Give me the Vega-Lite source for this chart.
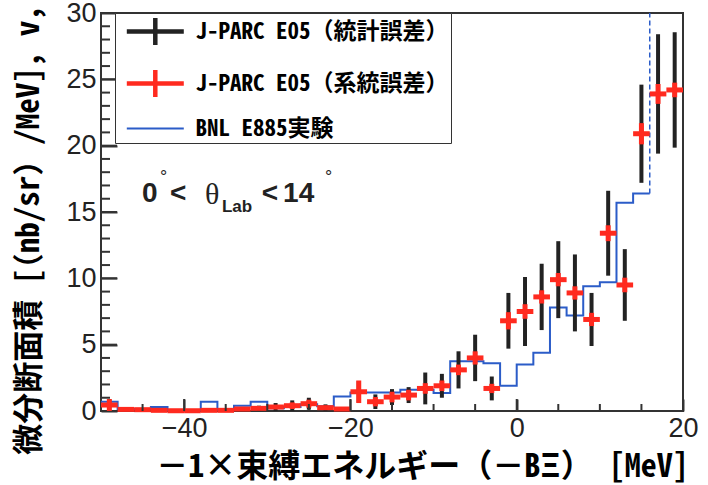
{
  "$schema": "https://vega.github.io/schema/vega-lite/v6.json",
  "width": 582,
  "height": 398,
  "autosize": {"type": "none"},
  "padding": {"left": 101, "top": 13, "right": 25, "bottom": 74},
  "background": "white",
  "config": {
    "view": {"stroke": "#333", "strokeWidth": 2},
    "axis": {"grid": false}
  },
  "datasets": {
    "jparc": [
      {"x": -49, "xlo": -50, "xhi": -48, "v": 0.45, "stat": 0.45, "syst": 0.45},
      {"x": -47, "xlo": -48, "xhi": -46, "v": 0.12, "stat": 0.12, "syst": 0.1},
      {"x": -45, "xlo": -46, "xhi": -44, "v": 0.1, "stat": 0.1, "syst": 0.1},
      {"x": -43, "xlo": -44, "xhi": -42, "v": 0.05, "stat": 0.05, "syst": 0.05},
      {"x": -41, "xlo": -42, "xhi": -40, "v": 0.02, "stat": 0.02, "syst": 0.02},
      {"x": -39, "xlo": -40, "xhi": -38, "v": 0.02, "stat": 0.02, "syst": 0.02},
      {"x": -37, "xlo": -38, "xhi": -36, "v": 0.05, "stat": 0.05, "syst": 0.05},
      {"x": -35, "xlo": -36, "xhi": -34, "v": 0.05, "stat": 0.05, "syst": 0.05},
      {"x": -33, "xlo": -34, "xhi": -32, "v": 0.15, "stat": 0.15, "syst": 0.1},
      {"x": -31, "xlo": -32, "xhi": -30, "v": 0.2, "stat": 0.2, "syst": 0.1},
      {"x": -29, "xlo": -30, "xhi": -28, "v": 0.3, "stat": 0.3, "syst": 0.15},
      {"x": -27, "xlo": -28, "xhi": -26, "v": 0.4, "stat": 0.4, "syst": 0.25},
      {"x": -25, "xlo": -26, "xhi": -24, "v": 0.55, "stat": 0.45, "syst": 0.3},
      {"x": -23, "xlo": -24, "xhi": -22, "v": 0.25, "stat": 0.25, "syst": 0.15},
      {"x": -21, "xlo": -22, "xhi": -20, "v": 0.15, "stat": 0.15, "syst": 0.1},
      {"x": -19, "xlo": -20, "xhi": -18, "v": 1.45, "stat": 0.8, "syst": 0.85},
      {"x": -17, "xlo": -18, "xhi": -16, "v": 0.7, "stat": 0.55, "syst": 0.35},
      {"x": -15, "xlo": -16, "xhi": -14, "v": 1.05, "stat": 0.6, "syst": 0.4},
      {"x": -13, "xlo": -14, "xhi": -12, "v": 1.2, "stat": 0.6, "syst": 0.4},
      {"x": -11, "xlo": -12, "xhi": -10, "v": 1.7, "stat": 1.2, "syst": 0.4},
      {"x": -9, "xlo": -10, "xhi": -8, "v": 1.9, "stat": 0.9, "syst": 0.4},
      {"x": -7, "xlo": -8, "xhi": -6, "v": 3.1, "stat": 1.4, "syst": 0.4},
      {"x": -5, "xlo": -6, "xhi": -4, "v": 4.0, "stat": 1.75, "syst": 0.5},
      {"x": -3, "xlo": -4, "xhi": -2, "v": 1.7, "stat": 0.9, "syst": 0.35},
      {"x": -1, "xlo": -2, "xhi": 0, "v": 6.8, "stat": 2.1, "syst": 0.65},
      {"x": 1, "xlo": 0, "xhi": 2, "v": 7.5, "stat": 2.6, "syst": 0.55},
      {"x": 3, "xlo": 2, "xhi": 4, "v": 8.6, "stat": 2.5, "syst": 0.5},
      {"x": 5, "xlo": 4, "xhi": 6, "v": 9.9, "stat": 2.9, "syst": 0.5},
      {"x": 7, "xlo": 6, "xhi": 8, "v": 8.9, "stat": 2.9, "syst": 0.5},
      {"x": 9, "xlo": 8, "xhi": 10, "v": 6.9, "stat": 2.0, "syst": 0.5},
      {"x": 11, "xlo": 10, "xhi": 12, "v": 13.4, "stat": 3.2, "syst": 0.6},
      {"x": 13, "xlo": 12, "xhi": 14, "v": 9.5, "stat": 2.7, "syst": 0.55},
      {"x": 15, "xlo": 14, "xhi": 16, "v": 20.9, "stat": 3.7, "syst": 0.8},
      {"x": 17, "xlo": 16, "xhi": 18, "v": 23.9, "stat": 4.5, "syst": 0.75},
      {"x": 19, "xlo": 18, "xhi": 20, "v": 24.2, "stat": 4.35, "syst": 0.55}
    ],
    "bnl": [
      {"e": -50, "v": 0.7}, {"e": -48, "v": 0.15}, {"e": -46, "v": 0.15}, {"e": -44, "v": 0.3},
      {"e": -42, "v": 0.05}, {"e": -40, "v": 0.05}, {"e": -38, "v": 0.7}, {"e": -36, "v": 0.1},
      {"e": -34, "v": 0.4}, {"e": -32, "v": 0.7}, {"e": -30, "v": 0.2}, {"e": -28, "v": 0.3},
      {"e": -26, "v": 0.5}, {"e": -24, "v": 0.35}, {"e": -22, "v": 1.1}, {"e": -20, "v": 1.4},
      {"e": -18, "v": 1.4}, {"e": -16, "v": 1.4}, {"e": -14, "v": 1.6}, {"e": -12, "v": 1.6},
      {"e": -10, "v": 1.35}, {"e": -8, "v": 3.75}, {"e": -6, "v": 3.75}, {"e": -4, "v": 3.6},
      {"e": -2, "v": 1.9}, {"e": 0, "v": 3.5}, {"e": 2, "v": 4.4}, {"e": 4, "v": 7.8},
      {"e": 6, "v": 7.2}, {"e": 8, "v": 9.4}, {"e": 10, "v": 9.7}, {"e": 12, "v": 15.7},
      {"e": 14, "v": 16.4}, {"e": 16, "v": 16.4}
    ],
    "edge": [{"x": 16, "y": 16.4, "y2": 30}],
    "tx_major": [{"v": -40}, {"v": -20}, {"v": 0}],
    "tx_minor": [{"v": -45}, {"v": -35}, {"v": -30}, {"v": -25}, {"v": -15}, {"v": -10}, {"v": -5}, {"v": 5}, {"v": 10}, {"v": 15}],
    "ty_major": [{"v": 5}, {"v": 10}, {"v": 15}, {"v": 20}, {"v": 25}],
    "ty_minor": [
      {"v": 1}, {"v": 2}, {"v": 3}, {"v": 4}, {"v": 6}, {"v": 7}, {"v": 8}, {"v": 9},
      {"v": 11}, {"v": 12}, {"v": 13}, {"v": 14}, {"v": 16}, {"v": 17}, {"v": 18}, {"v": 19},
      {"v": 21}, {"v": 22}, {"v": 23}, {"v": 24}, {"v": 26}, {"v": 27}, {"v": 28}, {"v": 29}
    ],
    "series": [
      {"series": "J-PARC E05（統計誤差）"},
      {"series": "J-PARC E05（系統誤差）"},
      {"series": "BNL E885実験"}
    ],
    "ann_main": [
      {"t": "0", "x": -45.07, "y": 15.75},
      {"t": "<", "x": -41.7, "y": 15.75},
      {"t": "<", "x": -30.67, "y": 15.75},
      {"t": "14", "x": -28.1, "y": 15.75}
    ],
    "ann_theta": [{"t": "θ", "x": -37.5, "y": 15.6}],
    "ann_sub": [{"t": "Lab", "x": -35.45, "y": 15.0}],
    "ann_deg": [
      {"t": "°", "x": -42.9, "y": 17.2},
      {"t": "°", "x": -23.06, "y": 17.2}
    ]
  },
  "layer": [
    {
      "data": {"name": "bnl"},
      "mark": {"type": "line", "interpolate": "step-after", "color": "#2b5cc8", "strokeWidth": 2},
      "encoding": {
        "x": {
          "field": "e", "type": "quantitative",
          "scale": {"domain": [-50, 20], "nice": false, "zero": false},
          "axis": {
            "orient": "bottom", "values": [-40, -20, 0, 20], "domain": false,
            "tickSize": -12, "tickWidth": 2, "tickColor": "#333333",
            "labelFont": "Liberation Sans", "labelFontSize": 27, "labelColor": "#222", "labelPadding": 16,
            "labelFlush": false,
            "title": "－1×束縛エネルギー（－BΞ） [MeV]",
            "titleFont": "Noto Sans Mono CJK JP, Noto Sans CJK JP", "titleFontSize": 32, "titleFontWeight": "bold",
            "titleColor": "#000", "titleX": 321, "titleY": 55, "titleAlign": "center", "titleBaseline": "middle"
          }
        },
        "y": {
          "field": "v", "type": "quantitative",
          "scale": {"domain": [0, 30], "nice": false, "zero": false},
          "axis": {
            "orient": "left", "values": [0, 5, 10, 15, 20, 25, 30], "domain": false,
            "tickSize": -16, "tickWidth": 2, "tickColor": "#333333",
            "labelFont": "Liberation Sans", "labelFontSize": 27, "labelColor": "#222", "labelPadding": 21,
            "labelFlush": false,
            "title": "微分断面積 [（nb/sr）/MeV]",
            "titleFont": "Noto Sans Mono CJK JP, Noto Sans CJK JP", "titleFontSize": 31, "titleFontWeight": "bold",
            "titleColor": "#000", "titleX": -72, "titleY": 201, "titleAngle": -90, "titleAlign": "center", "titleBaseline": "middle"
          }
        }
      }
    },
    {
      "data": {"name": "edge"},
      "mark": {"type": "rule", "color": "#2b5cc8", "strokeWidth": 1.5, "strokeDash": [5, 3]},
      "encoding": {
        "x": {"field": "x", "type": "quantitative", "scale": {"domain": [-50, 20], "nice": false, "zero": false}},
        "y": {"field": "y", "type": "quantitative", "scale": {"domain": [0, 30], "nice": false, "zero": false}},
        "y2": {"field": "y2"}
      }
    },
    {
      "data": {"name": "jparc"},
      "mark": {"type": "errorbar", "color": "#222", "thickness": 4, "clip": true},
      "encoding": {
        "x": {"field": "x", "type": "quantitative", "scale": {"domain": [-50, 20], "nice": false, "zero": false}},
        "y": {"field": "v", "type": "quantitative", "scale": {"domain": [0, 30], "nice": false, "zero": false}},
        "yError": {"field": "stat"}
      }
    },
    {
      "data": {"name": "jparc"},
      "mark": {"type": "rule", "color": "#ff2a1f", "strokeWidth": 5},
      "encoding": {
        "x": {"field": "xlo", "type": "quantitative", "scale": {"domain": [-50, 20], "nice": false, "zero": false}},
        "x2": {"field": "xhi"},
        "y": {"field": "v", "type": "quantitative", "scale": {"domain": [0, 30], "nice": false, "zero": false}}
      }
    },
    {
      "data": {"name": "jparc"},
      "mark": {"type": "errorbar", "color": "#ff2a1f", "thickness": 5},
      "encoding": {
        "x": {"field": "x", "type": "quantitative", "scale": {"domain": [-50, 20], "nice": false, "zero": false}},
        "y": {"field": "v", "type": "quantitative", "scale": {"domain": [0, 30], "nice": false, "zero": false}},
        "yError": {"field": "syst"}
      }
    },
    {
      "data": {"name": "tx_major"},
      "mark": {"type": "tick", "orient": "vertical", "size": 12, "thickness": 2, "yOffset": -6, "color": "#333333", "opacity": 1},
      "encoding": {
        "x": {"field": "v", "type": "quantitative", "scale": {"domain": [-50, 20], "nice": false, "zero": false}},
        "y": {"datum": 0, "type": "quantitative", "scale": {"domain": [0, 30], "nice": false, "zero": false}}
      }
    },
    {
      "data": {"name": "tx_minor"},
      "mark": {"type": "tick", "orient": "vertical", "size": 7, "thickness": 2, "yOffset": -3.5, "color": "#333333", "opacity": 1},
      "encoding": {
        "x": {"field": "v", "type": "quantitative", "scale": {"domain": [-50, 20], "nice": false, "zero": false}},
        "y": {"datum": 0, "type": "quantitative", "scale": {"domain": [0, 30], "nice": false, "zero": false}}
      }
    },
    {
      "data": {"name": "ty_major"},
      "mark": {"type": "tick", "orient": "horizontal", "size": 16, "thickness": 2, "xOffset": 8, "color": "#333333", "opacity": 1},
      "encoding": {
        "x": {"datum": -50, "type": "quantitative", "scale": {"domain": [-50, 20], "nice": false, "zero": false}},
        "y": {"field": "v", "type": "quantitative", "scale": {"domain": [0, 30], "nice": false, "zero": false}}
      }
    },
    {
      "data": {"name": "ty_minor"},
      "mark": {"type": "tick", "orient": "horizontal", "size": 9, "thickness": 2, "xOffset": 4.5, "color": "#333333", "opacity": 1},
      "encoding": {
        "x": {"datum": -50, "type": "quantitative", "scale": {"domain": [-50, 20], "nice": false, "zero": false}},
        "y": {"field": "v", "type": "quantitative", "scale": {"domain": [0, 30], "nice": false, "zero": false}}
      }
    },
    {
      "data": {"name": "ann_main"},
      "mark": {"type": "text", "font": "Liberation Sans", "fontWeight": "bold", "fontSize": 28, "color": "#222", "align": "left", "baseline": "alphabetic"},
      "encoding": {
        "x": {"field": "x", "type": "quantitative", "scale": {"domain": [-50, 20], "nice": false, "zero": false}},
        "y": {"field": "y", "type": "quantitative", "scale": {"domain": [0, 30], "nice": false, "zero": false}},
        "text": {"field": "t"}
      }
    },
    {
      "data": {"name": "ann_theta"},
      "mark": {"type": "text", "font": "Liberation Serif", "fontSize": 30, "color": "#222", "align": "left", "baseline": "alphabetic"},
      "encoding": {
        "x": {"field": "x", "type": "quantitative", "scale": {"domain": [-50, 20], "nice": false, "zero": false}},
        "y": {"field": "y", "type": "quantitative", "scale": {"domain": [0, 30], "nice": false, "zero": false}},
        "text": {"field": "t"}
      }
    },
    {
      "data": {"name": "ann_sub"},
      "mark": {"type": "text", "font": "Liberation Sans", "fontWeight": "bold", "fontSize": 17, "color": "#222", "align": "left", "baseline": "alphabetic"},
      "encoding": {
        "x": {"field": "x", "type": "quantitative", "scale": {"domain": [-50, 20], "nice": false, "zero": false}},
        "y": {"field": "y", "type": "quantitative", "scale": {"domain": [0, 30], "nice": false, "zero": false}},
        "text": {"field": "t"}
      }
    },
    {
      "data": {"name": "ann_deg"},
      "mark": {"type": "text", "font": "Liberation Sans", "fontSize": 18, "color": "#222", "align": "left", "baseline": "alphabetic"},
      "encoding": {
        "x": {"field": "x", "type": "quantitative", "scale": {"domain": [-50, 20], "nice": false, "zero": false}},
        "y": {"field": "y", "type": "quantitative", "scale": {"domain": [0, 30], "nice": false, "zero": false}},
        "text": {"field": "t"}
      }
    },
    {
      "data": {"name": "series"},
      "mark": {"type": "point", "opacity": 0, "size": 812},
      "encoding": {
        "color": {
          "field": "series", "type": "nominal",
          "scale": {
            "domain": ["J-PARC E05（統計誤差）", "J-PARC E05（系統誤差）", "BNL E885実験"],
            "range": ["#222222", "#ff2a1f", "#2b5cc8"]
          },
          "legend": {
            "title": null, "orient": "none", "legendX": 14, "legendY": 0,
            "fillColor": "white", "strokeColor": "#333",
            "padding": 2, "rowPadding": 7, "labelOffset": 45.5,
            "labelFont": "Noto Sans Mono CJK JP, Noto Sans CJK JP", "labelFontSize": 23, "labelFontWeight": "bold",
            "labelColor": "#000", "labelLimit": 0, "symbolSize": 812,
            "encode": {
              "legend": {"update": {"strokeWidth": {"value": 2}}},
              "symbols": {"update": {"opacity": {"value": 1}}}
            }
          }
        },
        "shape": {
          "field": "series", "type": "nominal",
          "scale": {
            "domain": ["J-PARC E05（統計誤差）", "J-PARC E05（系統誤差）", "BNL E885実験"],
            "range": ["M-0.47,0H3.53M1.53,-0.94V0.94", "M-0.47,0H3.53M1.53,-0.94V0.94", "M-0.47,0H3.53"]
          },
          "legend": {"title": null}
        },
        "strokeWidth": {
          "field": "series", "type": "nominal",
          "scale": {
            "type": "ordinal",
            "domain": ["J-PARC E05（統計誤差）", "J-PARC E05（系統誤差）", "BNL E885実験"],
            "range": [4.5, 4.5, 1.8]
          },
          "legend": {"title": null}
        }
      }
    }
  ]
}
